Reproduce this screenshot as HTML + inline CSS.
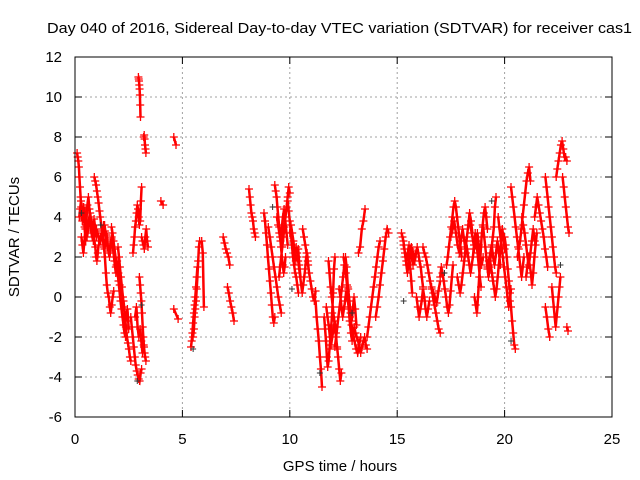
<!DOCTYPE html>
<html><head><meta charset="utf-8"><style>
body{margin:0;background:#fff;}
svg{display:block;font-family:"Liberation Sans",sans-serif;}
</style></head><body>
<svg id="chart" width="640" height="480">
<rect width="640" height="480" fill="#fff"/>
<text x="47" y="33" font-size="15" textLength="585" lengthAdjust="spacingAndGlyphs" fill="#000">Day 040 of 2016, Sidereal Day-to-day VTEC variation (SDTVAR) for receiver cas1</text>
<text x="340" y="471" font-size="15" text-anchor="middle">GPS time / hours</text>
<text transform="translate(19,237) rotate(-90)" font-size="15" text-anchor="middle">SDTVAR / TECUs</text>
<g id="grid"></g>
<g id="ticks"></g>
<g id="marks"></g>
<g id="marks2"></g>
<rect x="75" y="57" width="537" height="360" fill="none" stroke="#000" stroke-width="1"/>
</svg>
<script>
const xTicks=[0,5,10,15,20,25];
const yTicks=[-6,-4,-2,0,2,4,6,8,10,12];
// tracks: [startHour, endHour, values...]
const tracks=[
[0.1,0.5,7.2,7,6.8,6.5,6,5.5,5,4.5,4,3.8,4.2,4.5,4,3.5,3,2.8],
[0.2,1.1,4,4.4,4.8,4.5,4.2,3.9,4.1,4.3,4,3.6,3.3,3.7,4,4.2,3.8,3.4,3.6,3.2,2.8,2.5,2,1.8,2.2,2.6],
[0.3,0.9,3,2.6,2.2,2.8,3.4,3.9,4.6,5,4.4,3.8,3.2,3,2.8,3.2],
[0.4,1.0,4.5,4.2,3.6,3,3.5,4,3.8,3.2,3.6,3.9,3.4,3],
[0.9,1.5,6,5.8,5.6,5.3,5,4.7,4.3,4,3.6,3.3,3,3.3,3.6,3.2,2.8,3],
[1.0,1.7,3.4,3.2,3,2.8,3,3.2,3,2.6,2.4,2.8,3.1,2.7,2.3,2,2.5,2.9],
[1.2,1.9,2.8,3.2,3.6,3.3,2.9,2.5,2.2,2.6,3,2.4,1.8,1.2],
[1.3,1.8,3,2.5,2,1.2,0.6,0.2,0,-0.5,-0.8,-0.4,0,0.3],
[1.7,2.4,3.5,3.2,2.8,2.4,2,1.6,1.2,0.8,0.3,-0.2,-0.6,-1,-1.4,-1.8,-2,-1.6],
[1.9,2.5,1.5,1.8,1.2,0.6,0,-0.6,-0.2,-0.8,-1.2,-0.6,-1.6],
[2.0,2.6,2.5,2,1.5,1,0.5,0,-0.5,-1,-1.5,-2,-2.3,-2.6,-3,-3.2],
[2.6,3.1,-1,-1.5,-2,-2.5,-3,-3.4,-3.7,-3.9,-4.1,-4.2,-3.8,-3.6],
[2.7,3.1,2.2,2.6,3,3.5,3.8,4.2,4.6,4.4,4,3.6,3.8,4.8,5.5],
[2.8,3.2,-1,-0.5,-1.5,-2,-1.6,-2.2,-2.8,-2.4],
[3.0,3.3,1,0.6,0.2,-0.2,-0.8,-1.5,-2,-2.5,-2.8,-3,-3.2],
[3.1,3.4,3,2.8,2.6,2.4,3,3.4,2.8,2.5],
[2.95,3.05,11,10.9,10.8,10.6,10.4,10.1,9.6,9],
[3.2,3.3,8,8.1,7.9,7.6,7.4,7.2],
[4.0,4.1,4.8,4.6],
[4.6,4.7,8,7.6],
[4.6,4.8,-0.6,-1.1],
[5.4,5.7,-2.5,-2.2,-1.8,-1.3,-0.8,-0.4,0,0.5,1,1.5],
[5.5,5.8,-2,-1.6,-1,-0.6,-0.2,0.4,1,1.8,2.5,2.8],
[5.9,6.0,2.8,2.2,-0.5],
[6.9,7.2,3,2.7,2.4,2.2,2,1.6],
[7.1,7.4,0.5,0.2,-0.2,-0.5,-0.8,-1.2],
[8.1,8.4,5.4,5,4.6,4.2,4,3.8,3.4,3.2,3],
[8.8,9.3,4.2,3.8,3.2,2.6,2,1.4,0.8,0.2,-0.4,-1,-1.3,-1],
[9.0,9.6,3.5,3,2.5,2,1.5,1,0.5,0,-0.4,-0.8],
[9.3,9.8,5.6,5.3,5,4.5,4,3.5,3,2.5,2,1.6,1.2,1.5,2],
[9.4,9.9,4,3.6,3.2,2.8,3.4,4,4.4,3.8,3.2,2.6],
[9.5,10.0,1,1.5,2,2.5,3,3.5,4,4.5,5,5.5,5.2],
[9.9,10.4,4.8,4.3,3.8,3.2,2.6,2,1.6,1.2,1,0.6,0.2],
[10.0,10.5,3.2,3.6,3.2,2.8,2.2,1.8,2,2.4,1.6,1],
[10.3,10.9,2.5,2.2,1.8,1.4,1,0.6,0.2,0.6,1,1.4,2,2.2,1.6,1.2],
[10.6,11.2,3.4,3,2.6,2.2,1.8,1.2,0.8,0.4,0,-0.2,0.3],
[11.2,11.5,-0.2,-1,-1.6,-2.2,-3,-3.6,-4.5],
[11.6,12.1,-1,-1.6,-2.2,-3,-3.5,-3.2,-2.6,-2,-1.4,-0.8,0.2,1.4,2],
[11.7,12.2,-0.5,-1,-1.4,-2,-2.4,-2,-1.6,-1.2,-1.8,-2.6],
[11.8,12.4,1.8,1.2,0.5,0,-0.5,-1,-1.5,-2,-2.5,-3,-3.6,-4.2,-3.8],
[12.1,12.7,-2.5,-2,-1.5,-1,-0.5,0,0.5,1,1.6,2,1.5,0.5],
[12.3,12.9,0.4,0,-0.5,-1,-0.6,-0.2,0.3,0,-0.5,-1.2,-1.8,-2.2],
[12.5,13.1,2,1.6,1.2,0.6,0.4,-0.2,-0.8,-1.2,-0.6,0,-0.6,-1.4],
[12.8,13.3,-1,-1.4,-1.8,-2.2,-2.6,-2.8,-2.4,-2],
[13.0,13.6,-1.5,-1.8,-2,-2.2,-2.5,-2.8,-2.5,-2.2,-2,-2.4,-2.6],
[13.6,14.2,-2,-1.5,-1,-0.5,0,0.5,1,1.5,2,2.5,2.8],
[14.0,14.6,-1,-0.5,0,0.6,1.2,1.8,2.4,3,3.4,3.2],
[13.2,13.5,2.2,2.5,3.4,3.8,4.4],
[15.2,15.7,3.2,3,2.8,2.4,2,1.6,1.2,1.6,2,1.4,0.8,0.2],
[15.3,15.8,2.6,2.2,1.8,2.2,2.6,2.4,2,1.6,2],
[15.5,16.2,2.2,2,2.2,2.5,2.3,2,1.8,2.2,2.5,2.2,1.8,1.5,1,0.5],
[15.9,16.5,0,-0.5,-1,-0.6,-0.2,0.4,0,-0.6,-1,-0.6,-0.2],
[16.2,17.0,2.5,2.2,2,1.6,1.2,0.8,0.4,0,-0.4,-0.8,-1.2,-1.6,-1.8],
[16.6,17.0,0.5,0.2,0,-0.3,0.3,0.8],
[17.0,17.6,1,1.5,1.2,0.8,0.4,0,-0.5,-0.8,-0.4,0.3,1,1.6],
[17.3,18.0,1.6,2,2.5,3,3.5,4,4.5,4.8,4.5,4,3.5,3,2.5,2],
[17.5,18.2,3,3.4,3.8,3.2,2.6,2.2,2.8,3.4,2.8,2.2],
[17.8,18.5,1,0.6,0.2,0.6,1.2,1.8,2.4,3,3.6,4.2,3.8,3.2],
[18.2,18.9,2.8,2.4,2,1.6,1.2,1.6,2,2.6,3.2,2.8,2.2,1.6,1,0.5],
[18.4,19.0,3.6,3.2,2.8,2.4,2.8,3.2,2.6,2,1.6,2],
[18.6,19.2,0,-0.4,-0.8,0,1,2,3,3.6,4.2,4.5,4,3.4],
[19.0,19.6,3.5,3,2.5,2,1.5,1,1.5,2,2.5,3,3.5,4.5,5],
[19.2,19.8,1.4,1.8,2.2,2.6,2,1.6,2.2,2.8,2.2,1.6],
[19.3,20.0,2,1.6,1.2,0.8,0.4,0,0.4,1,1.6,2.2,2.8,3.4,3,2.4],
[19.7,20.3,4,3.5,3,2.5,2,1.5,1,0.5,0,-0.5,-0.2,0.4],
[20.0,20.5,3,2.6,2,1.4,0.8,0.2,-0.5,-1.2,-1.8,-2.4,-2.6],
[20.3,20.9,5.5,5,4.5,4,3.5,3,2.5,2,1.5,1,1.5,2],
[20.6,21.2,2,2.4,2.8,3.4,4,4.6,5.2,5.8,6.2,6.5,5.8],
[20.8,21.4,4,3.6,3.2,2.6,2,1.6,2.2,2.8,3.4,2.8],
[21.0,21.5,1,1.5,2,1.6,1.2,0.6,1.2,2,2.6,3.2],
[21.4,22.0,4,4.5,5,4.6,4.2,3.8,3.4,3,2.4,2,1.5],
[21.9,22.4,6,5.5,5,4.5,4,3.5,3,2.5,2,1.5,1.2],
[22.2,22.6,0.5,0,-0.5,-1,-1.5,-1,-0.5,0,0.5,1],
[22.4,22.9,6,6.4,6.8,7.2,7.6,7.8,7.4,7,7,6.8],
[22.7,23.0,6,5.5,5,4.5,4,3.5,3.2],
[22.9,22.95,-1.5,-1.7],
[21.9,22.1,-0.5,-1,-1.6,-2]
];
const blackTimes=[0.3,1.2,2.9,3.1,5.5,9.2,10.1,11.4,15.3,19.4,20.3,22.6,17.2,12.9];
const blackValues=[4.2,3.6,-4.2,-0.4,-2.6,4.5,0.4,-3.8,-0.2,4.8,-2.2,1.6,1.2,-0.8];

const X0=75,X1=612,Y0=417,Y1=57;
const xs=h=>X0+(h-0)/(25-0)*(X1-X0);
const ys=v=>Y0-(v+6)/(18)*(Y0-Y1);
const NS="http://www.w3.org/2000/svg";
const grid=document.getElementById('grid'),ticks=document.getElementById('ticks');
function mk(tag,attrs,parent){const e=document.createElementNS(NS,tag);for(const k in attrs)e.setAttribute(k,attrs[k]);parent.appendChild(e);return e;}
xTicks.forEach(t=>{const x=xs(t);
 if(t>0&&t<25){const g=mk('line',{x1:x,x2:x,y1:Y1,y2:Y0,stroke:'#a0a0a0','stroke-dasharray':'2,3'},grid);
 
 }
 const tk=mk('path',{d:`M${x},${Y0}v-7M${x},${Y1}v7`,stroke:'#000'},ticks);
 
 
 const l=mk('text',{x:x,y:444,'font-size':15,'text-anchor':'middle'},ticks);l.textContent=t;
 
 
});
yTicks.forEach(t=>{const y=ys(t);
 if(t>-6&&t<12){const g=mk('line',{x1:X0,x2:X1,y1:y,y2:y,stroke:'#a0a0a0','stroke-dasharray':'2,3'},grid);
 
 }
 const tk=mk('path',{d:`M${X0},${y}h7M${X1},${y}h-7`,stroke:'#000'},ticks);
 
 
 const l=mk('text',{x:62,y:y+5,'font-size':15,'text-anchor':'end'},ticks);l.textContent=t;
 
 
});
let d='',ld='';
tracks.forEach(tr=>{const t0=tr[0],t1=tr[1],vals=tr.slice(2),n=vals.length;
 vals.forEach((v,i)=>{const h=n>1?t0+(t1-t0)*i/(n-1):t0;const x=xs(h),y=ys(v);
  d+=`M${(x-4).toFixed(1)},${y.toFixed(1)}h8M${x.toFixed(1)},${(y-4).toFixed(1)}v8`;
  ld+=(i?'L':'M')+x.toFixed(1)+','+y.toFixed(1);
 });
});
const pl=mk('path',{d:ld,stroke:'#f00','stroke-width':2.5,fill:'none'},document.getElementById('marks'));


const pm=mk('path',{d:d,stroke:'#f00','stroke-width':1.3,fill:'none'},document.getElementById('marks'));


let bd='';
blackTimes.forEach((h,i)=>{const x=xs(h),y=ys(blackValues[i]);bd+=`M${x-3},${y}h6M${x},${y-3}v6`;});
const bm=mk('path',{d:bd,stroke:'#333','stroke-width':1},document.getElementById('marks2'));


</script>
</body></html>
